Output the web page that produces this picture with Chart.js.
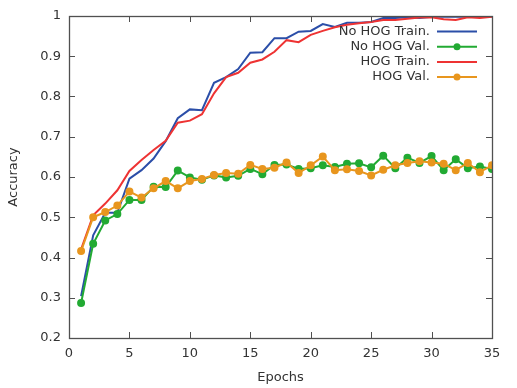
<!DOCTYPE html>
<html lang="en">
<head>
    <meta charset="UTF-8">
    <title>Accuracy vs Epochs</title>
    <script src="https://cdn.jsdelivr.net/npm/chart.js"></script>
    <style>
        html, body { margin: 0; padding: 0; background: #fff; }
        #wrap { width: 517px; height: 388px; }
    </style>
</head>
<body>
    <div id="wrap"><canvas id="accChart" width="517" height="388"></canvas></div>

    <script>
        // epochs 1..35
        const epochs = [1,2,3,4,5,6,7,8,9,10,11,12,13,14,15,16,17,18,19,20,
                        21,22,23,24,25,26,27,28,29,30,31,32,33,34,35];

        const noHogTrain = [0.304,0.455,0.511,0.511,0.596,0.617,0.646,0.689,0.746,0.768,
                            0.766,0.834,0.848,0.868,0.909,0.910,0.945,0.945,0.961,0.963,
                            0.980,0.973,0.983,0.983,0.985,0.995,0.995,0.997,0.995,0.998,
                            0.998,0.998,0.998,0.998,0.999];
        const noHogVal = [0.287,0.434,0.492,0.508,0.543,0.543,0.576,0.575,0.616,0.599,
                          0.593,0.604,0.599,0.603,0.620,0.607,0.630,0.631,0.620,0.622,
                          0.629,0.625,0.633,0.634,0.624,0.653,0.622,0.648,0.635,0.652,
                          0.617,0.644,0.622,0.626,0.620];
        const hogTrain = [0.420,0.505,0.534,0.567,0.615,0.642,0.667,0.690,0.735,0.740,
                          0.756,0.808,0.848,0.859,0.884,0.892,0.911,0.940,0.935,0.953,
                          0.963,0.972,0.978,0.982,0.985,0.990,0.990,0.993,0.996,0.997,
                          0.992,0.990,0.997,0.995,0.998];
        const hogVal = [0.416,0.500,0.513,0.529,0.564,0.549,0.572,0.590,0.572,0.590,
                        0.595,0.605,0.610,0.608,0.630,0.620,0.623,0.636,0.610,0.629,
                        0.651,0.617,0.619,0.615,0.604,0.618,0.629,0.635,0.639,0.636,
                        0.633,0.617,0.635,0.612,0.629];

        const xTicks = [0,5,10,15,20,25,30,35];
        const yTicks = [0.2,0.3,0.4,0.5,0.6,0.7,0.8,0.9,1];

        const textColor = '#333333';
        const frameColor = '#505050';
        const fontFamily = '"DejaVu Sans", sans-serif';

        function toPoints(values) {
            return values.map((v, i) => ({ x: epochs[i], y: v }));
        }

        // frame, inward ticks on all four sides, and the legend inside the plot
        const framePlugin = {
            id: 'frame',
            afterDatasetsDraw(chart) {
                const ctx = chart.ctx;
                const a = chart.chartArea;
                const xs = chart.scales.x, ys = chart.scales.y;
                const tl = 6;
                ctx.save();
                ctx.strokeStyle = frameColor;
                ctx.lineWidth = 1;
                ctx.beginPath();
                xTicks.forEach(t => {
                    const px = Math.round(xs.getPixelForValue(t)) + 0.5;
                    if (t === xTicks[0] || t === xTicks[xTicks.length - 1]) return;
                    ctx.moveTo(px, a.bottom); ctx.lineTo(px, a.bottom - tl);
                    ctx.moveTo(px, a.top); ctx.lineTo(px, a.top + tl);
                });
                yTicks.forEach(t => {
                    const py = Math.round(ys.getPixelForValue(t)) + 0.5;
                    if (t === yTicks[0] || t === yTicks[yTicks.length - 1]) return;
                    ctx.moveTo(a.left, py); ctx.lineTo(a.left + tl, py);
                    ctx.moveTo(a.right, py); ctx.lineTo(a.right - tl, py);
                });
                ctx.stroke();
                ctx.lineWidth = 1.3;
                ctx.strokeRect(Math.round(a.left) + 0.5, Math.round(a.top) + 0.5,
                               Math.round(a.right - a.left), Math.round(a.bottom - a.top));

                // legend: right-aligned text, sample line to the right
                const textRight = a.right - 62;
                const lineStart = a.right - 55, lineEnd = a.right - 15;
                ctx.font = '13px ' + fontFamily;
                ctx.textAlign = 'right';
                ctx.textBaseline = 'middle';
                chart.data.datasets.forEach((ds, i) => {
                    const y = a.top + 15.5 + i * 15.2;
                    ctx.fillStyle = textColor;
                    ctx.fillText(ds.label, textRight, y);
                    ctx.strokeStyle = ds.borderColor;
                    ctx.lineWidth = 2;
                    ctx.beginPath();
                    ctx.moveTo(lineStart, y); ctx.lineTo(lineEnd, y);
                    ctx.stroke();
                    if (ds.pointRadius > 0) {
                        ctx.fillStyle = ds.borderColor;
                        ctx.beginPath();
                        ctx.arc((lineStart + lineEnd) / 2, y, ds.pointRadius + 0.5, 0, Math.PI * 2);
                        ctx.fill();
                    }
                });
                ctx.restore();
            }
        };

        const ctx = document.getElementById('accChart').getContext('2d');
        new Chart(ctx, {
            type: 'line',
            data: {
                // later series drawn on top, like the original plot
                datasets: [
                    { label: 'No HOG Train.', data: toPoints(noHogTrain), borderColor: '#2b4ea8', order: 3,
                      backgroundColor: '#2b4ea8', borderWidth: 2, pointRadius: 0, tension: 0 },
                    { label: 'No HOG Val.', data: toPoints(noHogVal), borderColor: '#22aa33', order: 2,
                      backgroundColor: '#22aa33', borderWidth: 2, pointRadius: 3, tension: 0 },
                    { label: 'HOG Train.', data: toPoints(hogTrain), borderColor: '#ee3333', order: 1,
                      backgroundColor: '#ee3333', borderWidth: 2, pointRadius: 0, tension: 0 },
                    { label: 'HOG Val.', data: toPoints(hogVal), borderColor: '#e8961e', order: 0,
                      backgroundColor: '#e8961e', borderWidth: 2, pointRadius: 3, tension: 0 }
                ]
            },
            options: {
                responsive: false,
                animation: false,
                layout: { padding: { top: 16, right: 25, left: 0, bottom: 0 } },
                plugins: { legend: { display: false }, tooltip: { enabled: false } },
                scales: {
                    x: {
                        type: 'linear', min: 0, max: 35,
                        afterBuildTicks: s => { s.ticks = xTicks.map(v => ({ value: v })); },
                        afterFit: s => { s.height = 50; },
                        grid: { display: false, drawTicks: false },
                        border: { display: false },
                        ticks: { color: textColor, padding: 8, font: { family: fontFamily, size: 13 } },
                        title: { display: true, text: 'Epochs', color: textColor,
                                 padding: { top: 6, bottom: 3 }, font: { family: fontFamily, size: 13 } }
                    },
                    y: {
                        min: 0.2, max: 1,
                        afterBuildTicks: s => { s.ticks = yTicks.map(v => ({ value: v })); },
                        afterFit: s => { s.width = 69; },
                        grid: { display: false, drawTicks: false },
                        border: { display: false },
                        ticks: { color: textColor, padding: 8, font: { family: fontFamily, size: 13 },
                                 callback: v => String(Math.round(v * 10) / 10) },
                        title: { display: true, text: 'Accuracy', color: textColor,
                                 padding: { top: 6, bottom: 4 }, font: { family: fontFamily, size: 13 } }
                    }
                }
            },
            plugins: [framePlugin]
        });
    </script>
</body>
</html>
